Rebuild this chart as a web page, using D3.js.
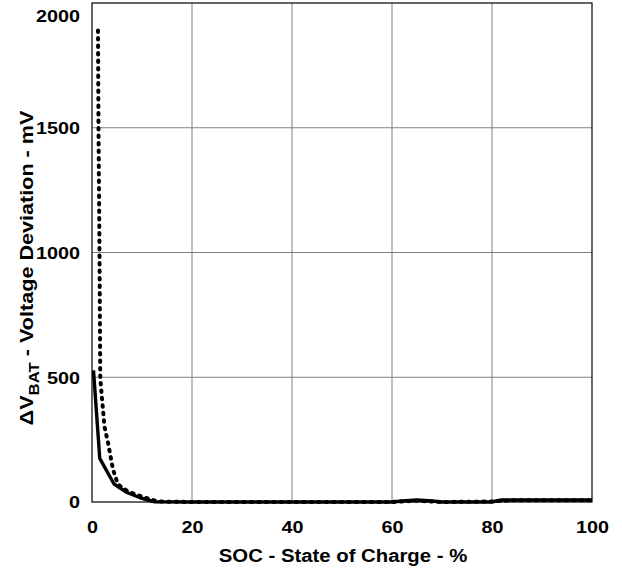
<!DOCTYPE html>
<html>
<head>
<meta charset="utf-8">
<script src="https://cdn.jsdelivr.net/npm/d3@7"></script>
<style>
  body { margin: 0; background: #fff; }
  text { font-family: Arial, "Liberation Sans", sans-serif; font-weight: bold; fill: #000; }
</style>
</head>
<body>
<svg id="chart" width="622" height="573"></svg>
<script>
// Data
const xTicks = [0, 20, 40, 60, 80, 100];
const yTicks = [0, 500, 1000, 1500, 2000];
const xTickLabels = ["0", "20", "40", "60", "80", "100"];
const yTickLabels = ["0", "500", "1000", "1500", "2000"];

// Solid series: SOC (%) and deviation (mV)
const solidSOC = [0.3, 1.55, 4.4, 7.0, 9.5, 11.2, 12.5, 20, 40, 60, 62, 65, 68, 70, 80, 81, 82, 84, 90, 100];
const solidDV  = [528, 175, 72, 38, 18, 8, 1, 0, 0, 0, 4, 8, 4, 0, 0, 5, 8, 8, 8, 8];

// Dotted series
const dotSOC = [1.2, 1.3, 1.5, 1.65, 1.9, 2.5, 3.2, 4.2, 5.2, 7.2, 10.5, 13.2, 20, 40, 60, 65, 70, 80, 84, 90, 100];
const dotDV  = [1890, 1500, 1000, 500, 438, 302, 238, 130, 70, 42, 18, 2, 0, 0, 0, 5, 0, 2, 7, 7, 7];

const svg = d3.select("#chart");
const pL = 92, pR = 592, pT = 3, pB = 502;

const x = d3.scaleLinear().domain([0, 100]).range([pL, pR]);
const y = d3.scaleLinear().domain([0, 2000]).range([pB, pT]);

// Gridlines
svg.append("g").selectAll("line")
  .data(xTicks.slice(1, -1)).enter().append("line")
  .attr("x1", d => x(d)).attr("x2", d => x(d))
  .attr("y1", pT).attr("y2", pB)
  .attr("stroke", "#808080").attr("stroke-width", 1);
svg.append("g").selectAll("line")
  .data(yTicks.slice(1, -1)).enter().append("line")
  .attr("x1", pL).attr("x2", pR)
  .attr("y1", d => y(d)).attr("y2", d => y(d))
  .attr("stroke", "#808080").attr("stroke-width", 1);

// Frame
svg.append("rect")
  .attr("x", pL).attr("y", pT)
  .attr("width", pR - pL).attr("height", pB - pT)
  .attr("fill", "none").attr("stroke", "#000").attr("stroke-width", 1.2);

// Axes (labels only), glyphs stretched horizontally like the reference
const xAxis = d3.axisBottom(x).tickValues(xTicks)
  .tickFormat((d, i) => xTickLabels[i]).tickSize(0).tickPadding(19);
const gx = svg.append("g").attr("transform", `translate(0,${pB})`).call(xAxis);
gx.select(".domain").remove();
gx.selectAll("text").style("font-size", "16.5px").attr("font-family", null)
  .attr("transform", "scale(1.2,1)");

const yAxis = d3.axisLeft(y).tickValues(yTicks)
  .tickFormat((d, i) => yTickLabels[i]).tickSize(0).tickPadding(10);
const gy = svg.append("g").attr("transform", `translate(${pL},0)`).call(yAxis);
gy.select(".domain").remove();
gy.selectAll("text").style("font-size", "16.5px").attr("font-family", null)
  .attr("dy", d => d === 2000 ? "1.15em" : "0.35em")
  .attr("transform", "scale(1.2,1)");

// Lines
const line = d3.line().x(d => x(d[0])).y(d => y(d[1])).curve(d3.curveLinear);
const solidData = solidSOC.map((s, i) => [s, solidDV[i]]);
const dotData = dotSOC.map((s, i) => [s, dotDV[i]]);

svg.append("path").datum(dotData)
  .attr("d", line).attr("fill", "none")
  .attr("stroke", "#000").attr("stroke-width", 4)
  .attr("stroke-linecap", "round").attr("stroke-dasharray", "1.5,6");

svg.append("path").datum(solidData)
  .attr("d", line).attr("fill", "none")
  .attr("stroke", "#000").attr("stroke-width", 3.4)
  .attr("stroke-linejoin", "round");

// Axis titles
svg.append("text")
  .attr("transform", `translate(${(pL + pR) / 2 + 1},562) scale(1.13,1)`)
  .attr("text-anchor", "middle").style("font-size", "18px")
  .text("SOC - State of Charge - %");

const yt = svg.append("text")
  .attr("transform", `translate(33,268) rotate(-90) scale(1.2,1)`)
  .attr("text-anchor", "middle").style("font-size", "18px");
yt.append("tspan").text("ΔV");
yt.append("tspan").attr("dy", 6).style("font-size", "14px").text("BAT");
yt.append("tspan").attr("dy", -6).text(" - Voltage Deviation - mV");
</script>
</body>
</html>
